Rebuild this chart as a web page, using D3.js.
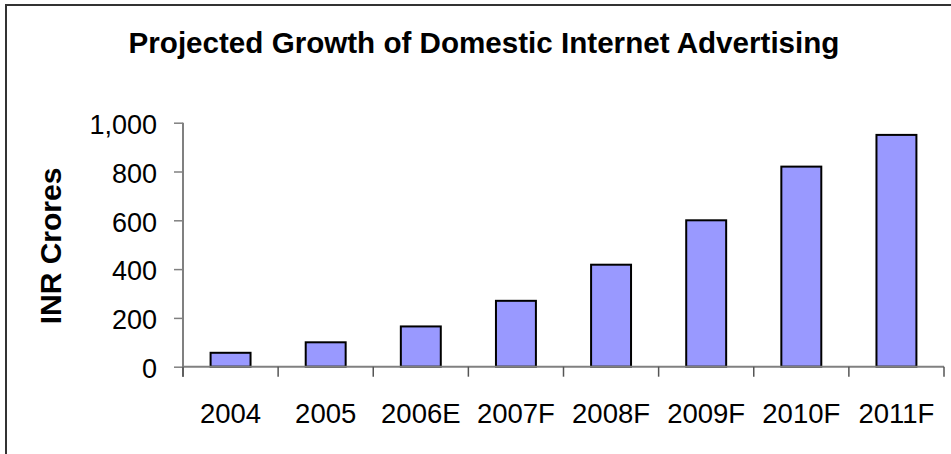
<!DOCTYPE html>
<html>
<head>
<meta charset="utf-8">
<script src="https://cdn.jsdelivr.net/npm/d3@7"></script>
<style>
  html, body { margin: 0; padding: 0; background: #fff; }
  svg { display: block; font-family: Arial, "Liberation Sans", sans-serif; }
</style>
</head>
<body>
<svg id="chart" width="951" height="454"></svg>
<script>
// Projected domestic internet advertising spend, INR crores
const years = ["2004", "2005", "2006E", "2007F", "2008F", "2009F", "2010F", "2011F"];
const spend = [57, 100, 165, 270, 418, 600, 820, 950];
const yTicks = [0, 200, 400, 600, 800, 1000];

const svg = d3.select("#chart");
const W = 951, H = 454;
const plot = { left: 183, right: 944, top: 122.7, bottom: 366.7 };

// outer frame (only top and left edges fall inside the canvas)
svg.append("rect")
  .attr("x", 6).attr("y", 5)
  .attr("width", W + 20).attr("height", H + 20)
  .attr("fill", "none").attr("stroke", "#333").attr("stroke-width", 2);

const x = d3.scaleBand().domain(years)
  .range([plot.left, plot.right])
  .paddingInner(0.58).paddingOuter(0.29);

const y = d3.scaleLinear().domain([0, 1000]).range([plot.bottom, plot.top]);

// bars
svg.append("g").selectAll("rect").data(years).join("rect")
  .attr("x", d => x(d))
  .attr("y", (d, i) => y(spend[i]))
  .attr("width", x.bandwidth())
  .attr("height", (d, i) => y(0) - y(spend[i]))
  .attr("fill", "#9999ff")
  .attr("stroke", "#000")
  .attr("stroke-width", 2);

// y axis
const yAxis = svg.append("g")
  .attr("transform", `translate(${plot.left},0)`)
  .call(d3.axisLeft(y).tickValues(yTicks).tickSize(9).tickPadding(17)
    .tickFormat(d3.format(",")));
yAxis.select(".domain").attr("stroke", "#808080").attr("stroke-width", 2)
  .attr("d", `M0,${plot.top}V${plot.bottom + 10}`);
yAxis.selectAll(".tick line").attr("stroke", "#808080").attr("stroke-width", 1.5);
yAxis.selectAll(".tick text")
  .attr("fill", "#000").attr("font-size", 27).attr("dy", "0.4em");

// x axis: ticks sit on the category boundaries
const xAxisG = svg.append("g").attr("transform", `translate(0,${plot.bottom})`);
xAxisG.append("line")
  .attr("x1", plot.left).attr("x2", plot.right)
  .attr("stroke", "#808080").attr("stroke-width", 2);
const step = x.step();
const bounds = d3.range(years.length + 1).map(i => plot.left + i * step);
xAxisG.selectAll("line.tk").data(bounds).join("line")
  .attr("class", "tk")
  .attr("x1", d => d).attr("x2", d => d)
  .attr("y1", 0).attr("y2", 10)
  .attr("stroke", "#555").attr("stroke-width", 1.5);
xAxisG.selectAll("text").data(years).join("text")
  .attr("x", d => x(d) + x.bandwidth() / 2)
  .attr("y", 56)
  .attr("text-anchor", "middle")
  .attr("font-size", 27.5)
  .attr("fill", "#000")
  .text(d => d);

// title
svg.append("text")
  .attr("x", 484).attr("y", 53)
  .attr("text-anchor", "middle")
  .attr("font-size", 29.6).attr("font-weight", "bold")
  .text("Projected Growth of Domestic Internet Advertising");

// y axis title
svg.append("text")
  .attr("transform", "translate(61,246) rotate(-90)")
  .attr("text-anchor", "middle")
  .attr("font-size", 30).attr("font-weight", "bold")
  .text("INR Crores");
</script>
</body>
</html>
